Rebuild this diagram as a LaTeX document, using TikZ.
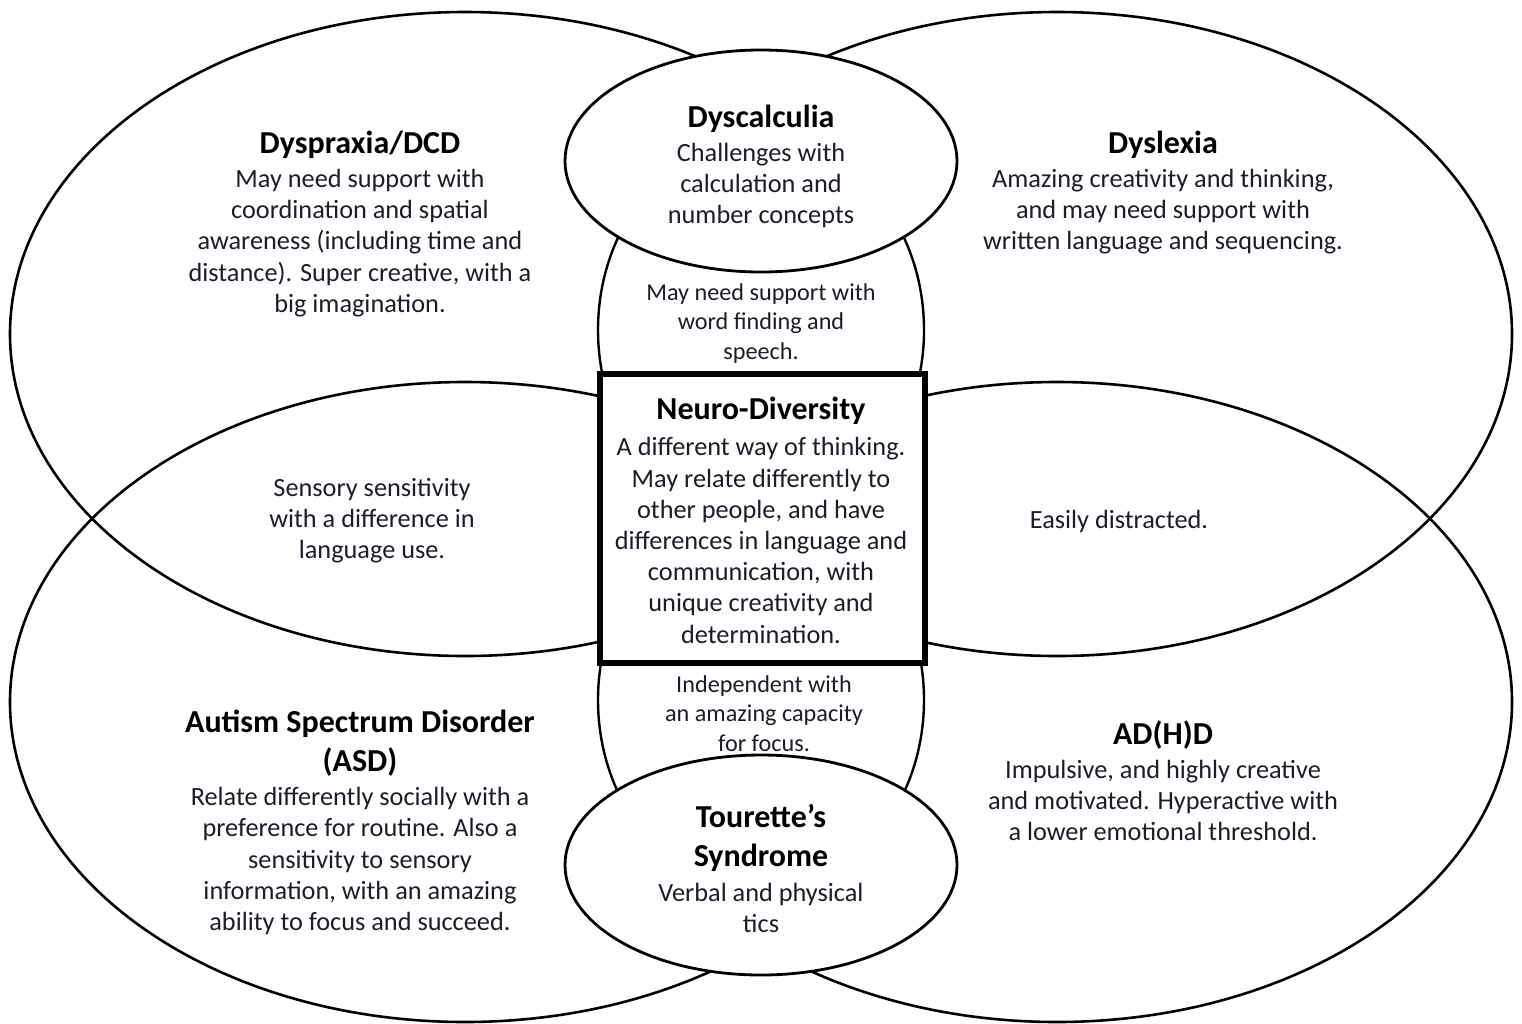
\documentclass[tikz,border=0pt]{standalone}
\usepackage{fontspec}
\setmainfont{Carlito}
\usetikzlibrary{shapes.geometric}
\definecolor{bodytext}{RGB}{28,28,44}
\begin{document}
\begin{tikzpicture}[x=1pt,y=-1pt,
  bigell/.style={draw, line width=2.6pt, ellipse, inner sep=0pt, minimum width=910pt},
  midell/.style={draw, line width=2.4pt, ellipse, inner sep=0pt, fill=white, minimum width=326pt, minimum height=384pt},
  smallell/.style={draw, line width=2.8pt, ellipse, inner sep=0pt, fill=white, minimum width=392pt},
  body/.style={font=\fontsize{26.3}{31.2}\selectfont, text=bodytext, align=center, inner sep=0pt},
  small/.style={font=\fontsize{24.2}{29.3}\selectfont, text=bodytext, align=center, inner sep=0pt},
  title/.style={font=\fontsize{32}{38.5}\selectfont\bfseries, align=center, inner sep=0pt}
]
\useasboundingbox (0,0) rectangle (1522,1023);
% large ellipses
\node[bigell, minimum height=644pt] (tl) at (465,334) {};
\node[bigell, minimum height=640pt] (bl) at (465,702) {};
\node[bigell, minimum height=644pt] (tr) at (1057,334) {};
\node[bigell, minimum height=640pt] (br) at (1057,702) {};
% middle ellipses
\node[midell] (mu) at (761,330) {};
\node[midell] (ml) at (761,700) {};
% small ellipses
\node[smallell, minimum height=222pt] (dyscalc) at (761,161) {};
\node[smallell, minimum height=220pt] (tour) at (761,865) {};
% centre rectangle
\draw[line width=6pt, fill=white] (599.5,373.5) rectangle (924.5,662.5);
\coordinate (rect) at (762,518);

% texts
\node[title] (t1) at (360,145) {Dyspraxia/DCD};
\node[body] (b1) at (360,243) {May need support with\\coordination and spatial\\awareness (including time and\\distance). Super creative, with a\\big imagination.};

\node[title] (t2) at (761,119) {Dyscalculia};
\node[body] (b2) at (761,185.5) {Challenges with\\calculation and\\number concepts};

\node[title] (t3) at (1163,145) {Dyslexia};
\node[body] (b3) at (1163,211.5) {Amazing creativity and thinking,\\and may need support with\\written language and sequencing.};

\node[small] (s1) at (761,323.5) {May need support with\\word finding and\\speech.};

\node[title] (t4) at (761,411) {Neuro-Diversity};
\node[body] (b4) at (761,540.5) {A different way of thinking.\\May relate differently to\\other people, and have\\differences in language and\\communication, with\\unique creativity and\\determination.};

\node[body] (s2) at (372,520.5) {Sensory sensitivity\\with a difference in\\language use.};
\node[body] (s3) at (1119,521.5) {Easily distracted.};

\node[small] (s4) at (764,713.5) {Independent with\\an amazing capacity\\for focus.};

\node[title] (t5) at (360,743) {Autism Spectrum Disorder\\(ASD)};
\node[body] (b5) at (360,861) {Relate differently socially with a\\preference for routine. Also a\\sensitivity to sensory\\information, with an amazing\\ability to focus and succeed.};

\node[title] (t6) at (1163,735) {AD(H)D};
\node[body] (b6) at (1163,800.5) {Impulsive, and highly creative\\and motivated. Hyperactive with\\a lower emotional threshold.};

\node[title] (t7) at (761,838) {Tourette’s\\Syndrome};
\node[body] (b7) at (761,908) {Verbal and physical\\tics};
\end{tikzpicture}
\end{document}
